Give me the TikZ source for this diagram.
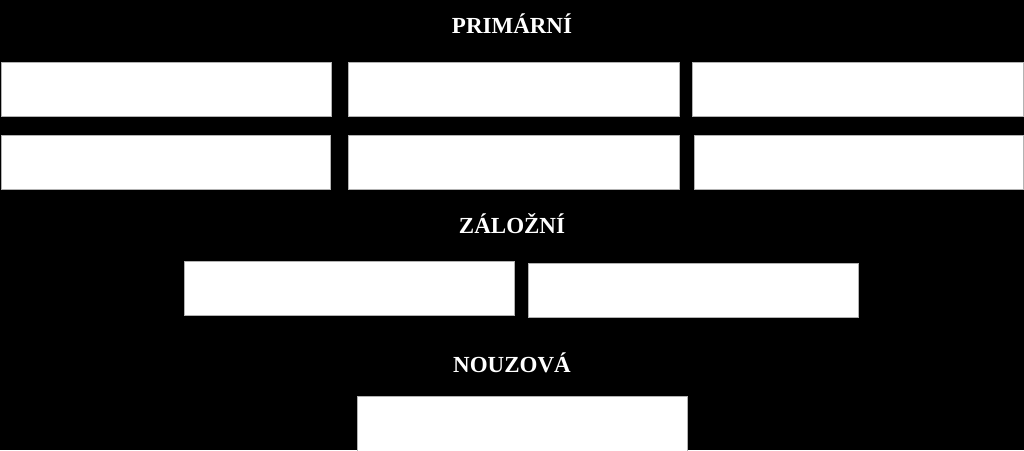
\documentclass[tikz,border=0pt]{standalone}
\usepackage{fontspec}
\setmainfont{Liberation Serif}
\begin{document}
\begin{tikzpicture}[x=1pt,y=-1pt,
  cell/.style={draw=gray!60, line width=0.8pt, fill=white},
  heading/.style={text=white, font=\bfseries\fontsize{23}{26}\selectfont, inner sep=0pt}]
\useasboundingbox[fill=black] (0,0) rectangle (1024,450);
\node[heading] (t1) at (512,24) {PRIMÁRNÍ};
\draw[cell] (1,62) rectangle (331,116);
\draw[cell] (348,62) rectangle (679,116);
\draw[cell] (692,62) rectangle (1023,116);
\draw[cell] (1,135) rectangle (330,189);
\draw[cell] (348,135) rectangle (679,189);
\draw[cell] (694,135) rectangle (1023,189);
\node[heading] (t2) at (512,224) {ZÁLOŽNÍ};
\draw[cell] (184,261) rectangle (514,315);
\draw[cell] (528,263) rectangle (858,317);
\node[heading] (t3) at (512,363) {NOUZOVÁ};
\draw[cell] (357,396) rectangle (687,452);
\end{tikzpicture}
\end{document}
